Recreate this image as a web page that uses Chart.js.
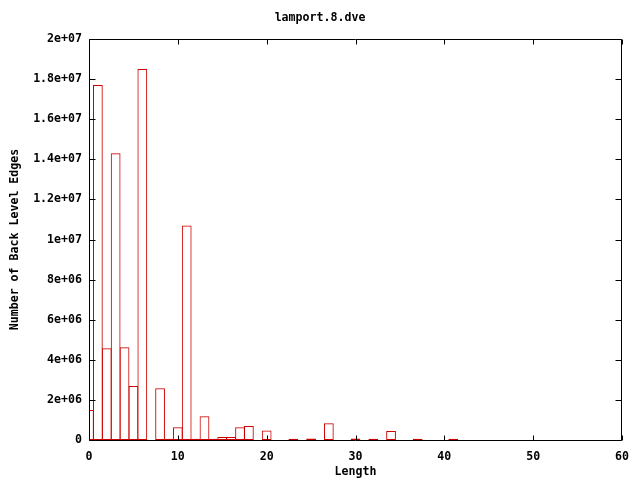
<!DOCTYPE html>
<html>
<head>
<meta charset="utf-8">
<script src="https://cdn.jsdelivr.net/npm/chart.js@4.4.1/dist/chart.umd.min.js"></script>
<style>
  html, body { margin: 0; padding: 0; background: #fff; }
  #wrap { width: 640px; height: 480px; }
</style>
</head>
<body>
<div id="wrap"><canvas id="histChart" width="640" height="480"></canvas></div>
<script>
// values (length -> number of back level edges)
const lengths = [0, 1, 2, 3, 4, 5, 6, 7, 8, 9, 10, 11, 12, 13, 14, 15, 16, 17, 18, 19, 20,
                 23, 25, 27, 30, 32, 34, 37, 41];
const edges = [1.5e6, 1.77e7, 4.57e6, 1.43e7, 4.62e6, 2.69e6, 1.85e7, 0, 2.58e6, 6e4, 6.3e5,
               1.07e7, 6e4, 1.18e6, 6e4, 1.5e5, 1.5e5, 6.3e5, 7e5, 0, 4.8e5,
               6e4, 8e4, 8.3e5, 8e4, 6e4, 4.5e5, 6e4, 6e4];
const xTicks = [0, 10, 20, 30, 40, 50, 60];
const yTicks = [0, 2e6, 4e6, 6e6, 8e6, 1e7, 1.2e7, 1.4e7, 1.6e7, 1.8e7, 2e7];
const yTickLabels = ['0', '2e+06', '4e+06', '6e+06', '8e+06', '1e+07',
                     '1.2e+07', '1.4e+07', '1.6e+07', '1.8e+07', '2e+07'];

const chartTitle = 'lamport.8.dve';
const barColor = 'rgb(204,0,0)';
const font = { family: '"DejaVu Sans Mono", monospace', size: 11.6, weight: 'bold', lineHeight: 1.2 };

// gnuplot style frame: box round the plot and inward ticks on all four sides
const framePlugin = {
    id: 'frame',
    afterDraw(chart) {
        const { ctx, chartArea: a, scales } = chart;
        ctx.save();
        ctx.strokeStyle = '#000';
        ctx.lineWidth = 1;
        const L = Math.round(a.left) + 0.5, R = Math.round(a.right) - 0.5;
        const T = Math.round(a.top) + 0.5, B = Math.round(a.bottom) + 0.5;
        ctx.beginPath();
        ctx.rect(L, T, R - L, B - T);
        xTicks.forEach(v => {
            const px = Math.round(scales.x.getPixelForValue(v)) + 0.5;
            ctx.moveTo(px, B); ctx.lineTo(px, B - 5);
            ctx.moveTo(px, T); ctx.lineTo(px, T + 5);
        });
        yTicks.forEach(v => {
            const py = Math.round(scales.y.getPixelForValue(v)) + 0.5;
            ctx.moveTo(L, py); ctx.lineTo(L + 6, py);
            ctx.moveTo(R, py); ctx.lineTo(R - 6, py);
        });
        ctx.stroke();

        ctx.fillStyle = '#000';
        ctx.font = 'bold 11.6px "DejaVu Sans Mono", monospace';
        ctx.textAlign = 'center';
        ctx.textBaseline = 'middle';
        ctx.fillText(chartTitle, 320, 18);
        ctx.restore();
    }
};

new Chart(document.getElementById('histChart'), {
    type: 'bar',
    data: {
        datasets: [{
            label: 'edges',
            data: lengths.map((x, i) => ({ x: x, y: edges[i] })),
            backgroundColor: 'rgba(0,0,0,0)',
            borderColor: barColor,
            borderWidth: 1,
            borderSkipped: false,
            inflateAmount: 0,
            barPercentage: 1.1,
            categoryPercentage: 1
        }]
    },
    options: {
        responsive: false,
        animation: false,
        events: [],
        layout: { padding: { left: 0, right: 18, top: 39, bottom: 0 } },
        plugins: { legend: { display: false }, tooltip: { enabled: false }, title: { display: false } },
        scales: {
            x: {
                type: 'linear',
                min: 0, max: 60,
                offset: false,
                grid: { display: false, offset: false, drawTicks: false, tickLength: 0 },
                border: { display: false },
                afterBuildTicks: s => { s.ticks = xTicks.map(v => ({ value: v })); },
                afterFit: s => { s.height = 40; },
                ticks: { color: '#000', font: font, padding: 10, maxRotation: 0, autoSkip: false },
                title: { display: true, text: 'Length', color: '#000', font: font, padding: { top: 0, bottom: 1 } }
            },
            y: {
                min: 0, max: 2e7,
                grid: { display: false, drawTicks: false, tickLength: 0 },
                border: { display: false },
                afterBuildTicks: s => { s.ticks = yTicks.map(v => ({ value: v })); },
                afterFit: s => { s.width = 89; },
                ticks: {
                    color: '#000', font: font, padding: 7, autoSkip: false,
                    callback: (v) => yTickLabels[yTicks.indexOf(v)]
                },
                title: { display: true, text: 'Number of Back Level Edges', color: '#000', font: font, padding: { top: 8, bottom: 0 } }
            }
        }
    },
    plugins: [framePlugin]
});
</script>
</body>
</html>
